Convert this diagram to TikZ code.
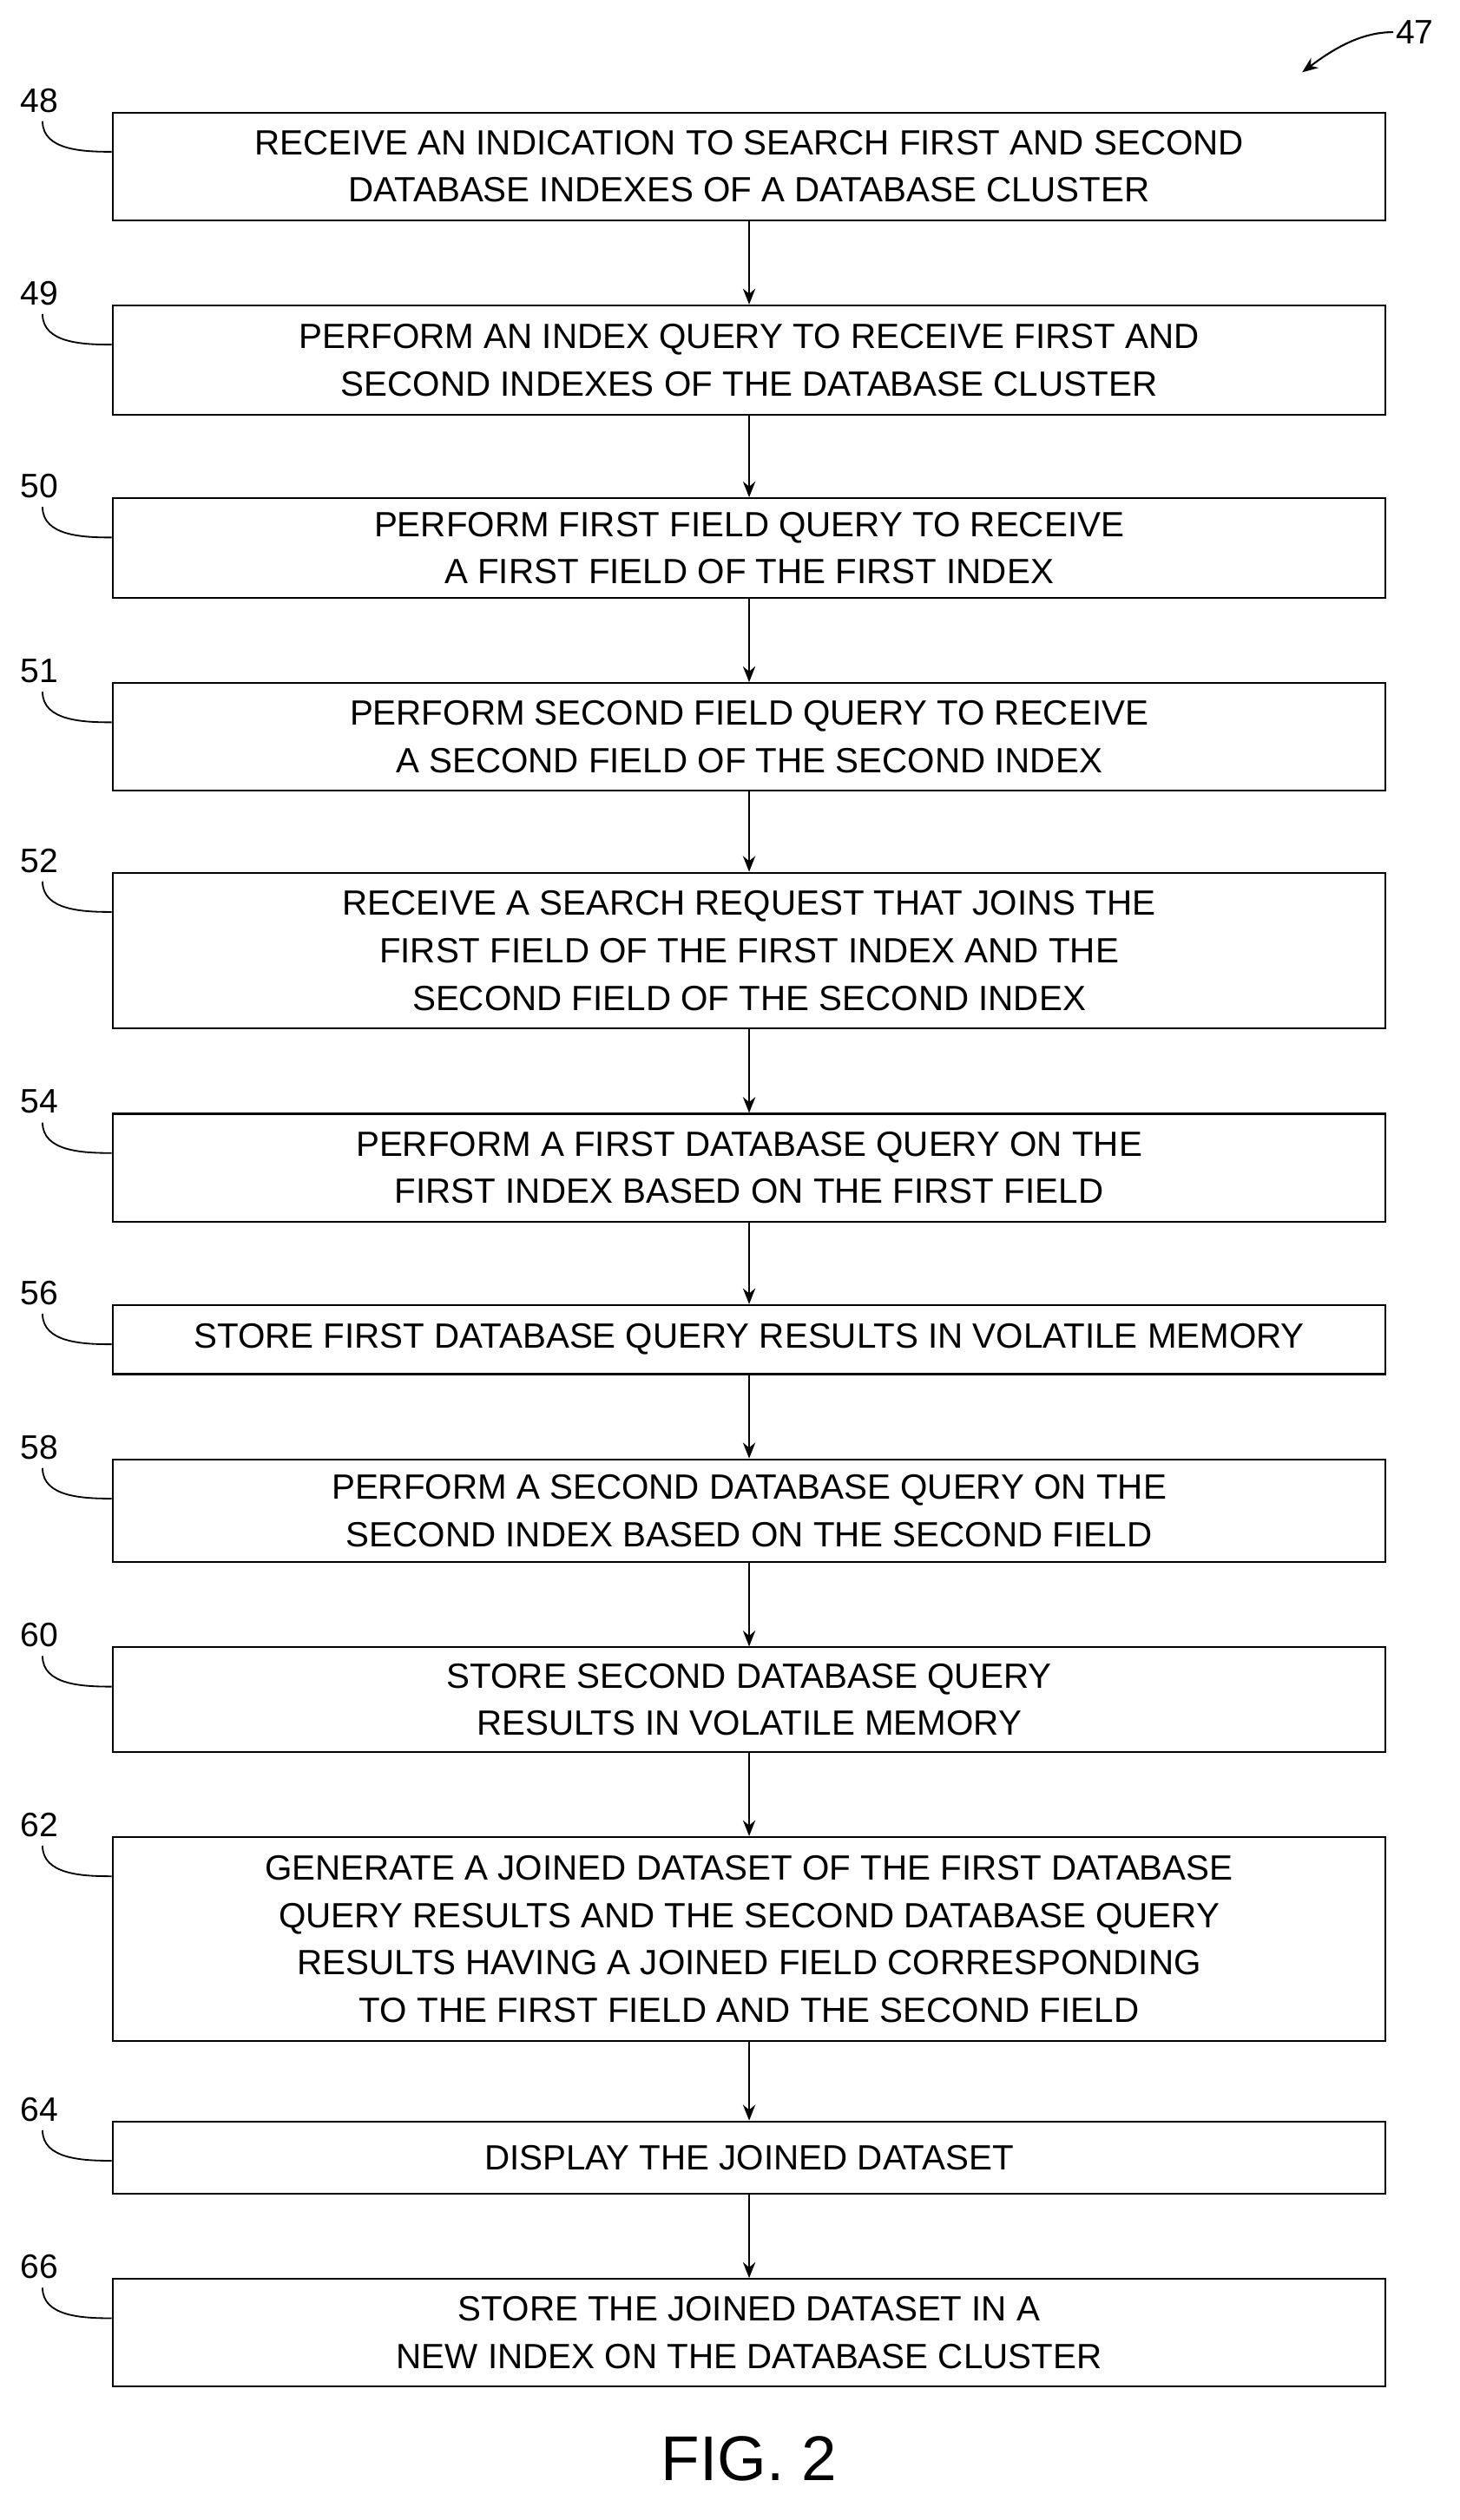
\documentclass[tikz,border=0pt]{standalone}
\usepackage{fontspec}
\setmainfont{Liberation Sans}
\usetikzlibrary{positioning, arrows.meta, calc}
\tikzset{
  stepbox/.style={draw, line width=1.6pt, minimum width=39.6cm, inner sep=0pt,
    align=center, font=\fontsize{31}{42}\selectfont},
  reflabel/.style={font=\fontsize{30}{36}\selectfont, inner sep=2pt},
  flow/.style={->, line width=1.6pt, >={Stealth[length=14pt,width=11pt]}}
}
\begin{document}
\begin{tikzpicture}[x=0.05cm, y=-0.05cm]
\useasboundingbox (0,0) rectangle (908,1568);

% Etapes
\node[stepbox, minimum height=3.35cm] (s48) at (466,103.5) {RECEIVE AN INDICATION TO SEARCH FIRST AND SECOND\\DATABASE INDEXES OF A DATABASE CLUSTER};
\node[stepbox, minimum height=3.4cm] (s49) at (466,224) {PERFORM AN INDEX QUERY TO RECEIVE FIRST AND\\SECOND INDEXES OF THE DATABASE CLUSTER};
\node[stepbox, minimum height=3.1cm] (s50) at (466,341) {PERFORM FIRST FIELD QUERY TO RECEIVE\\A FIRST FIELD OF THE FIRST INDEX};
\node[stepbox, minimum height=3.35cm] (s51) at (466,458.5) {PERFORM SECOND FIELD QUERY TO RECEIVE\\A SECOND FIELD OF THE SECOND INDEX};
\node[stepbox, minimum height=4.85cm] (s52) at (466,591.5) {RECEIVE A SEARCH REQUEST THAT JOINS THE\\FIRST FIELD OF THE FIRST INDEX AND THE\\SECOND FIELD OF THE SECOND INDEX};
\node[stepbox, minimum height=3.35cm] (s54) at (466,726.5) {PERFORM A FIRST DATABASE QUERY ON THE\\FIRST INDEX BASED ON THE FIRST FIELD};
\node[stepbox, minimum height=2.15cm] (s56) at (466,833.5) {STORE FIRST DATABASE QUERY RESULTS IN VOLATILE MEMORY};
\node[stepbox, minimum height=3.2cm] (s58) at (466,940) {PERFORM A SECOND DATABASE QUERY ON THE\\SECOND INDEX BASED ON THE SECOND FIELD};
\node[stepbox, minimum height=3.25cm] (s60) at (466,1057.5) {STORE SECOND DATABASE QUERY\\RESULTS IN VOLATILE MEMORY};
\node[stepbox, minimum height=6.35cm] (s62) at (466,1206.5) {GENERATE A JOINED DATASET OF THE FIRST DATABASE\\QUERY RESULTS AND THE SECOND DATABASE QUERY\\RESULTS HAVING A JOINED FIELD CORRESPONDING\\TO THE FIRST FIELD AND THE SECOND FIELD};
\node[stepbox, minimum height=2.25cm] (s64) at (466,1342.5) {DISPLAY THE JOINED DATASET};
\node[stepbox, minimum height=3.35cm] (s66) at (466,1451.5) {STORE THE JOINED DATASET IN A\\NEW INDEX ON THE DATABASE CLUSTER};

% Fleches
\foreach \a/\b in {48/49, 49/50, 50/51, 51/52, 52/54, 54/56, 56/58, 58/60, 60/62, 62/64, 64/66}
  \draw[flow] (s\a) -- (s\b);

% Reperes
\foreach \n in {48,49,50,51,52,54,56,58,60,62,64,66} {
  \node[reflabel, anchor=south] (l\n) at ($(s\n.north west)+(-45,2)$) {\n};
  \draw[line width=1.4pt] ($(l\n.south)+(2,4)$) .. controls +(0,18) and ($(s\n.north west)+(-18,25)$) .. ($(s\n.north west)+(0,25)$);
}

% Figure
\node[reflabel] (l47) at (880,20) {47};
\coordinate (c47) at (810,45);
\draw[flow] (l47.west) .. controls +(-20,0) and (830,30) .. (c47);
\node[font=\fontsize{56}{60}\selectfont] (fig) at (466,1530) {FIG. 2};
\end{tikzpicture}
\end{document}
